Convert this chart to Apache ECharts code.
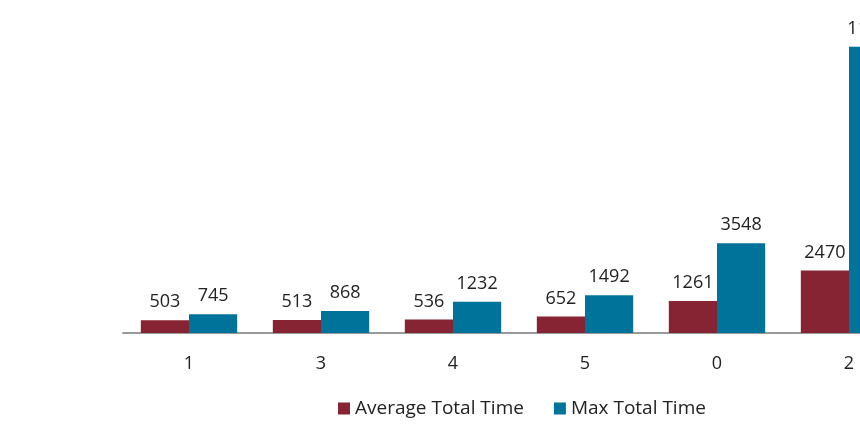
<!DOCTYPE html>
<html>
<head>
<meta charset="utf-8">
<script src="https://cdn.jsdelivr.net/npm/echarts@6/dist/echarts.min.js"></script>
<style>
  html, body { margin: 0; padding: 0; background: #ffffff; overflow: hidden; width: 860px; height: 437px; }
  #chart { width: 1000px; height: 437px; }
</style>
</head>
<body>
<div id="chart"></div>
<script>
// Step ids, ordered by average time
const categories = ['1', '3', '4', '5', '0', '2'];
const avgTotalTime = [503, 513, 536, 652, 1261, 2470];
const maxTotalTime = [745, 868, 1232, 1492, 3548, 11312];
const seriesNames = ['Average Total Time', 'Max Total Time'];

const FONT = '"Open Sans", "Noto Sans", sans-serif';
const chart = echarts.init(document.getElementById('chart'), null, { renderer: 'canvas' });

chart.setOption({
  animation: false,
  textStyle: { fontFamily: FONT },
  color: ['#862433', '#00739A'],
  legend: {
    left: 333,
    top: 394,
    itemWidth: 12,
    itemHeight: 12,
    itemGap: 30,
    icon: 'rect',
    textStyle: { fontSize: 19, color: '#222', fontFamily: FONT },
    data: seriesNames
  },
  grid: { left: 123, right: 85, top: 4, bottom: 104, containLabel: false },
  xAxis: {
    type: 'category',
    data: categories,
    axisLine: { lineStyle: { color: '#999999', width: 2 } },
    axisTick: { show: false },
    axisLabel: { margin: 22, fontSize: 18, color: '#222', fontFamily: FONT }
  },
  yAxis: {
    type: 'value',
    min: 0,
    max: 13000,
    show: false,
    splitLine: { show: false }
  },
  series: [
    {
      name: seriesNames[0],
      type: 'bar',
      data: avgTotalTime,
      barGap: '0%',
      barCategoryGap: '27%',
      label: { show: true, position: 'top', distance: 9, fontSize: 18, color: '#222', fontFamily: FONT }
    },
    {
      name: seriesNames[1],
      type: 'bar',
      data: maxTotalTime,
      barGap: '0%',
      barCategoryGap: '27%',
      label: { show: true, position: 'top', distance: 9, fontSize: 18, color: '#222', fontFamily: FONT }
    }
  ]
});
</script>
</body>
</html>
